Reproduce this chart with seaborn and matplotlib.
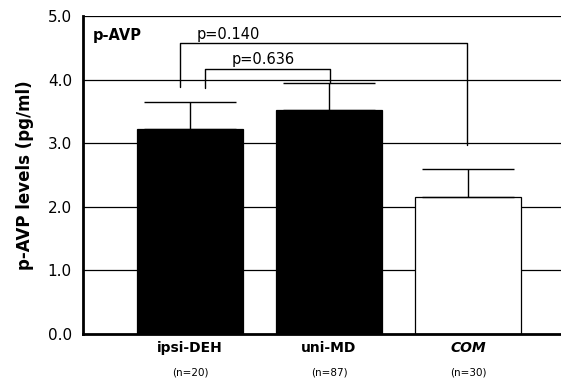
import numpy as np
import pandas as pd
import matplotlib.pyplot as plt
import seaborn as sns

groups = ["ipsi-DEH", "uni-MD", "COM"]
n_labels = ["(n=20)", "(n=87)", "(n=30)"]
means = [3.22, 3.52, 2.15]
sem_up = [0.43, 0.43, 0.45]
bar_colors = ["black", "black", "white"]

df = pd.DataFrame({"group": groups, "mean": means})

sns.set_style("white", rc={"text.color": "black", "xtick.color": "black",
                           "ytick.color": "black", "axes.labelcolor": "black"})
plt.rcParams['font.family'] = ['DejaVu Sans']

fig = plt.figure(figsize=(5.61, 3.83), dpi=100)
ax = fig.add_axes([0.148, 0.128, 0.852, 0.83])

# horizontal grid behind bars
for yv in [1, 2, 3, 4, 5]:
    ax.axhline(yv, color="black", lw=0.9, zorder=0)

sns.barplot(
    data=df, x="group", y="mean", hue="group",
    palette=bar_colors, edgecolor="black", linewidth=0.9,
    width=0.76, legend=False, ax=ax, zorder=2
    )

# upper error bars only
ax.errorbar(
    range(len(groups)), means,
    yerr=[np.zeros(len(means)), sem_up],
    fmt="none", ecolor="black", elinewidth=1.0,
    capsize=33, capthick=1.0, zorder=3
    )

# significance brackets
ax.plot([-0.07, -0.07, 1.99, 1.99], [3.88, 4.57, 4.57, 2.97], color="black", lw=1.0, zorder=4)
ax.plot([0.11, 0.11, 1.01, 1.01], [3.87, 4.17, 4.17, 3.95], color="black", lw=1.0, zorder=4)
ax.text(0.05, 4.6, "p=0.140", fontsize=10.5, va="bottom", ha="left")
ax.text(0.3, 4.2, "p=0.636", fontsize=10.5, va="bottom", ha="left")
ax.text(-0.7, 4.7, "p-AVP", fontsize=10.5, fontweight="bold", va="center", ha="left")

ax.set_ylim(0, 5)
ax.set_xlim(-0.77, 2.67)
ax.set_yticks([0, 1, 2, 3, 4, 5])
ax.set_yticklabels(["0.0", "1.0", "2.0", "3.0", "4.0", "5.0"], fontsize=11)
ax.set_xticks(range(len(groups)))
ax.set_xticklabels(groups, fontsize=10, fontweight="bold")
ax.get_xticklabels()[2].set_style("italic")
ax.tick_params(axis="y", length=0, pad=8)
ax.tick_params(axis="x", length=0, pad=5)
for i, lab in enumerate(n_labels):
    ax.text(i, -0.6, lab, fontsize=7.5, ha="center", va="center")

ax.set_xlabel("")
ax.set_ylabel("p-AVP levels (pg/ml)", fontsize=12, fontweight="bold", labelpad=10)
ax.spines["right"].set_visible(False)
ax.spines["top"].set_visible(False)
ax.spines["left"].set_linewidth(2)
ax.spines["bottom"].set_linewidth(2)
ax.spines["left"].set_color("black")
ax.spines["bottom"].set_color("black")

fig.savefig("out.png", dpi=100)
